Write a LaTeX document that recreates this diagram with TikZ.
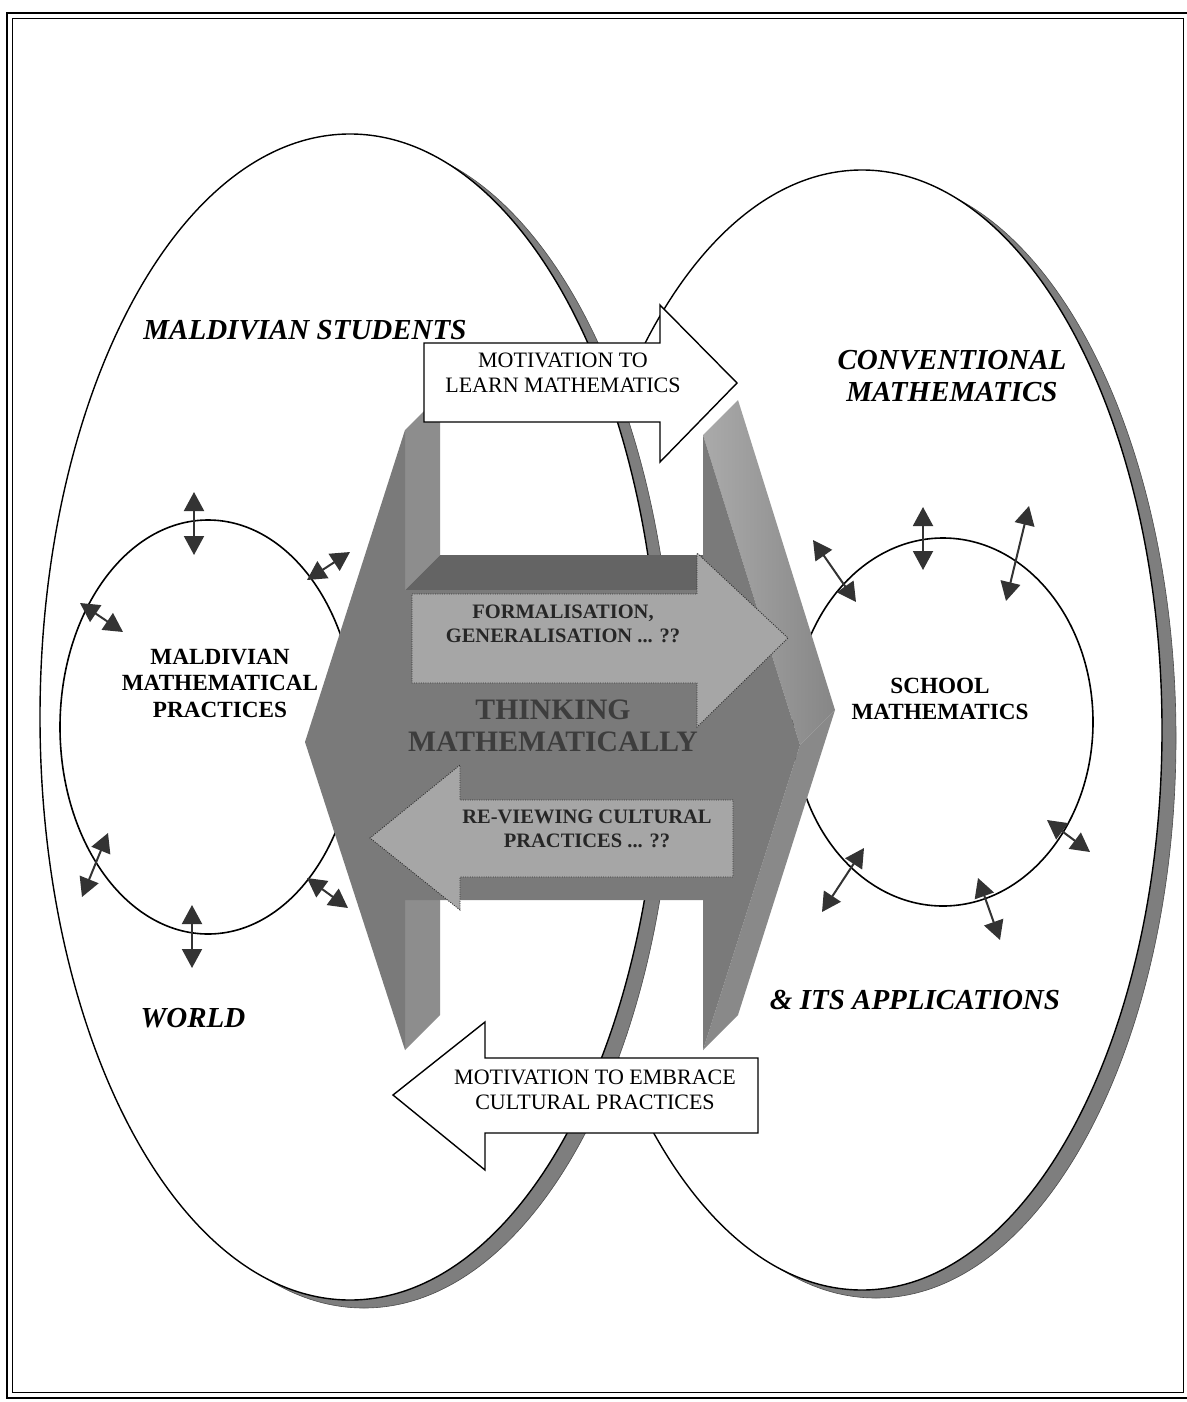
\documentclass[tikz,border=0pt]{standalone}
\usepackage{fontspec}
\setmainfont{Liberation Serif}
\usetikzlibrary{arrows.meta,calc}
\definecolor{inkgray}{HTML}{333333}
\definecolor{frontface}{HTML}{7A7A7A}
\definecolor{sideface}{HTML}{959595}
\definecolor{stripface}{HTML}{8D8D8D}
\definecolor{topface}{HTML}{646464}
\definecolor{flowfill}{HTML}{A6A6A6}
\definecolor{shadowgray}{HTML}{7E7E7E}
\begin{document}
\begin{tikzpicture}[x=1pt,y=-1pt,
  bigoval/.style={draw=black,line width=1.4pt,fill=white},
  ovalshadow/.style={fill=shadowgray,draw=black!70,line width=0.6pt},
  smalloval/.style={draw=black,line width=1.6pt},
  twoway/.style={{Triangle[length=19pt,width=20pt]}-{Triangle[length=19pt,width=20pt]},
                 line width=2pt,draw=inkgray,fill=inkgray},
  blockarrow/.style={draw=black,line width=1.4pt,fill=white,line join=miter},
  flowarrow/.style={fill=flowfill,draw=black!80,line width=0.9pt,dash pattern=on 1pt off 1.3pt},
  region/.style={font=\fontsize{29}{32}\selectfont\bfseries\itshape,align=center,inner sep=0pt},
  practice/.style={font=\fontsize{23.2}{26.5}\selectfont\bfseries,align=center,inner sep=0pt},
  motive/.style={font=\fontsize{22}{24.5}\selectfont,align=center,inner sep=0pt},
  flowtext/.style={font=\fontsize{20.5}{24}\selectfont\bfseries,text=black!85,align=center,inner sep=0pt},
  bigtext/.style={font=\fontsize{29.7}{32}\selectfont\bfseries,text=black!76,align=center,inner sep=0pt}
]
\useasboundingbox (0,0) rectangle (1186,1402);

% double frame
\draw[line width=2.6pt] (7,13) rectangle (1194,1398);
\draw[line width=0.9pt] (12.5,18.5) rectangle (1183,1392.5);

% the two large ovals with their cast shadows
\coordinate (rc) at (862,730);
\coordinate (lc) at (350,717);
\fill[ovalshadow] ($(rc)+(14,8)$) ellipse [x radius=300, y radius=560];
\draw[bigoval] (rc) ellipse [x radius=300, y radius=560];
\fill[ovalshadow] ($(lc)+(14,8)$) ellipse [x radius=310, y radius=583];
\draw[bigoval] (lc) ellipse [x radius=310, y radius=583];

% inner ovals
\coordinate (lpc) at (208,727);
\coordinate (spc) at (943,722);
\draw[smalloval] (lpc) ellipse [x radius=148, y radius=207];
\draw[smalloval] (spc) ellipse [x radius=150, y radius=184];

% extruded central block: side faces first, then the front face
\shade[left color=sideface!80!white, right color=sideface!90!black]
   (703,435) -- (738,400) -- (835,710) -- (800,745) -- cycle;
\fill[sideface!92!black] (800,745) -- (835,710) -- (738,1015) -- (703,1050) -- cycle;
\fill[stripface] (405,430) -- (440,395) -- (440,555) -- (405,590) -- cycle;
\fill[stripface] (405,900) -- (440,865) -- (440,1015) -- (405,1050) -- cycle;
\fill[topface] (405,590) -- (440,555) -- (738,555) -- (703,590) -- cycle;
\fill[frontface] (305,742) -- (405,430) -- (405,590) -- (703,590) -- (703,435)
   -- (800,745) -- (703,1050) -- (703,900) -- (405,900) -- (405,1050) -- cycle;

% flow arrows on the block
\draw[flowarrow] (412,594) -- (697,594) -- (697,553) -- (788,638) -- (697,727)
   -- (697,683) -- (412,683) -- cycle;
\draw[flowarrow] (733,800) -- (460,800) -- (460,765) -- (370,838) -- (460,910)
   -- (460,877) -- (733,877) -- cycle;
\node[flowtext] (formal) at (563,624) {FORMALISATION,\\GENERALISATION ... ??};
\node[flowtext] (review) at (587,829) {RE-VIEWING CULTURAL\\PRACTICES ... ??};
\node[bigtext] (think) at (553,726) {THINKING\\MATHEMATICALLY};

% motivation arrows
\draw[blockarrow] (424,343) -- (660,343) -- (660,305) -- (737,383) -- (660,462)
   -- (660,422) -- (424,422) -- cycle;
\node[motive] (learn) at (563,373) {MOTIVATION TO\\LEARN MATHEMATICS};
\draw[blockarrow] (758,1058) -- (485,1058) -- (485,1022) -- (393,1095) -- (485,1170)
   -- (485,1133) -- (758,1133) -- cycle;
\node[motive] (embrace) at (595,1090) {MOTIVATION TO EMBRACE\\CULTURAL PRACTICES};

% two-way arrows around the Maldivian practices
\coordinate (a1s) at (194,492);  \coordinate (a1e) at (194,555);
\coordinate (a2s) at (307,580);  \coordinate (a2e) at (350,552);
\coordinate (a3s) at (80,603);   \coordinate (a3e) at (123,632);
\coordinate (a4s) at (108,833);  \coordinate (a4e) at (82,897);
\coordinate (a5s) at (192,905);  \coordinate (a5e) at (192,968);
\coordinate (a6s) at (307,878);  \coordinate (a6e) at (348,908);
\foreach \k in {1,...,6} \draw[twoway] (a\k s) -- (a\k e);

% two-way arrows around school mathematics
\coordinate (b1s) at (813,540);  \coordinate (b1e) at (856,602);
\coordinate (b2s) at (923,507);  \coordinate (b2e) at (923,570);
\coordinate (b3s) at (1029,506); \coordinate (b3e) at (1006,601);
\coordinate (b4s) at (1047,820); \coordinate (b4e) at (1090,852);
\coordinate (b5s) at (978,878);  \coordinate (b5e) at (1000,940);
\coordinate (b6s) at (864,848);  \coordinate (b6e) at (822,912);
\foreach \k in {1,...,6} \draw[twoway] (b\k s) -- (b\k e);

% labels
\node[region] (students) at (305,330) {MALDIVIAN STUDENTS};
\node[region] (conv) at (952,376) {CONVENTIONAL\\MATHEMATICS};
\node[region] (world) at (193,1018) {WORLD};
\node[region] (apps) at (915,1000) {\& ITS APPLICATIONS};
\node[practice] (mmp) at (220,683) {MALDIVIAN\\MATHEMATICAL\\PRACTICES};
\node[practice] (school) at (940,699) {SCHOOL\\MATHEMATICS};
\end{tikzpicture}
\end{document}
